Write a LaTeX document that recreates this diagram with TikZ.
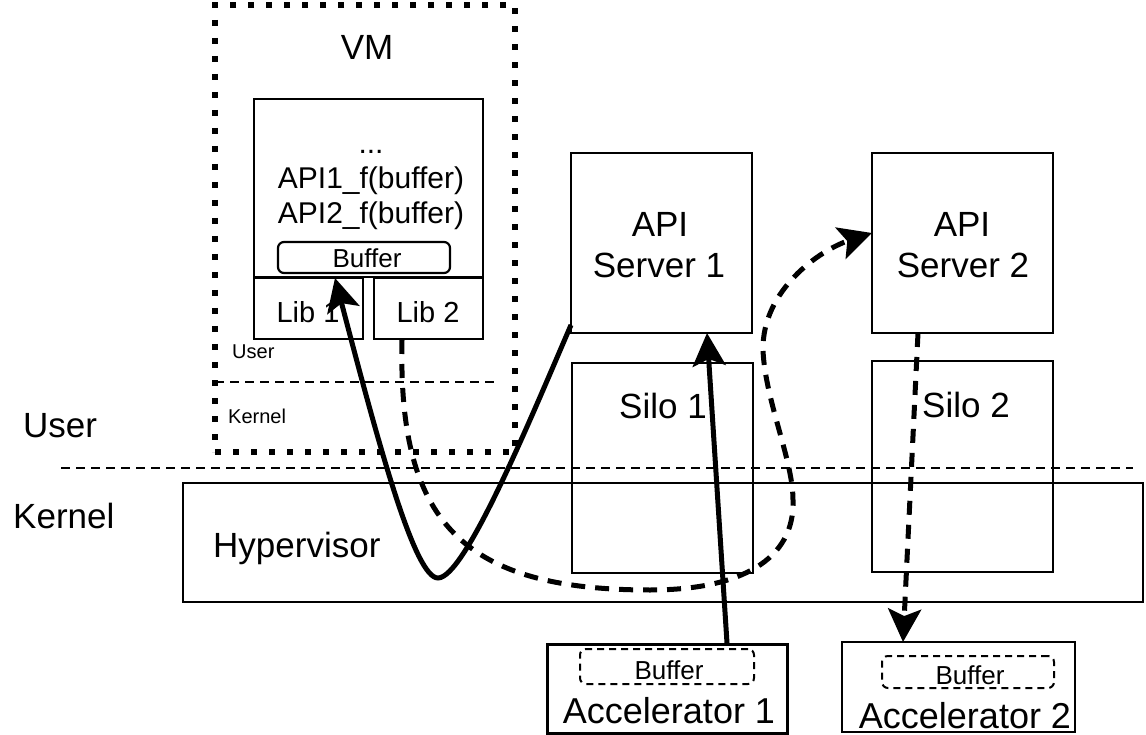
\documentclass[tikz,border=0pt]{standalone}
\usepackage{fontspec}
\setmainfont{Liberation Sans}
\usetikzlibrary{arrows.meta,calc}
\begin{document}
\begin{tikzpicture}[x=1pt,y=-1pt,
  box/.style={draw, line width=2.2pt, inner sep=0pt},
  vmbox/.style={draw, line width=6pt, dash pattern=on 6pt off 12pt, inner sep=0pt},
  bufbox/.style={draw, line width=2.2pt, rounded corners=6pt, inner sep=0pt},
  dbufbox/.style={draw, line width=2pt, dash pattern=on 7pt off 5pt, rounded corners=6pt, inner sep=0pt},
  sep/.style={line width=2pt, dash pattern=on 9pt off 6pt},
  lbl/.style={anchor=base, inner sep=0pt},
  big/.style={font=\fontsize{35}{40}\selectfont},
  acc/.style={font=\fontsize{36}{40}\selectfont},
  mid/.style={font=\fontsize{30}{35}\selectfont},
  libf/.style={font=\fontsize{29}{34}\selectfont},
  buff/.style={font=\fontsize{26}{30}\selectfont},
  small/.style={font=\fontsize{20}{24}\selectfont},
  solidarrow/.style={line width=5pt, -{Stealth[length=33pt, width=33pt, inset=7pt]}},
  dasharrow/.style={line width=5pt, dash pattern=on 14pt off 10pt, -{Stealth[length=33pt, width=33pt, inset=7pt]}}
]
\useasboundingbox (0,0) rectangle (1146,735);

% VM
\node[vmbox, minimum width=300pt, minimum height=447pt] (vm) at (365,228.5) {};
\node[lbl, big] (vmt) at (367,60) {VM};
\node[box, minimum width=229pt, minimum height=178pt] (app) at (368.5,188) {};
\node[lbl, mid] (dots) at (371,154) {...};
\node[lbl, mid] (f1) at (371,189) {API1\_f(buffer)};
\node[lbl, mid] (f2) at (371,224) {API2\_f(buffer)};
\node[bufbox, minimum width=172pt, minimum height=31pt] (buf) at (364,257.5) {};
\node[lbl, buff] (buft) at (367,268) {Buffer};
\node[box, minimum width=109pt, minimum height=61pt] (lib1) at (308.5,308.5) {};
\node[lbl, libf] (lib1t) at (308,323) {Lib 1};
\node[box, minimum width=109pt, minimum height=61pt] (lib2) at (428.5,308.5) {};
\node[lbl, libf] (lib2t) at (428,323) {Lib 2};
\node[lbl, small, anchor=base west] (vmuser) at (232,359) {User};
\node[lbl, small, anchor=base west] (vmkernel) at (228,423) {Kernel};
\coordinate (vmsl) at (215,382);
\coordinate (vmsr) at (497,382);
\draw[sep] (vmsl) -- (vmsr);

% user / kernel separation
\coordinate (ukl) at (61,468);
\coordinate (ukr) at (1133,468);
\draw[sep] (ukl) -- (ukr);
\node[lbl, big, anchor=base west] (user) at (23,437) {User};
\node[lbl, big, anchor=base west] (kernel) at (13,528) {Kernel};

% hypervisor
\node[box, minimum width=960pt, minimum height=119pt] (hyp) at (663,542.5) {};
\node[lbl, big, anchor=base west] (hypt) at (213,557) {Hypervisor};

% servers and silos
\node[box, minimum width=181pt, minimum height=180pt] (api1) at (661.5,243) {};
\node[lbl, big] (api1a) at (660,237) {API};
\node[lbl, big] (api1b) at (659,278) {Server 1};
\node[box, minimum width=181pt, minimum height=210pt] (silo1) at (662.5,468) {};
\node[lbl, big] (silo1t) at (663,418) {Silo 1};
\node[box, minimum width=181pt, minimum height=180pt] (api2) at (962.5,243) {};
\node[lbl, big] (api2a) at (962,237) {API};
\node[lbl, big] (api2b) at (963,278) {Server 2};
\node[box, minimum width=181pt, minimum height=211pt] (silo2) at (962.5,466.5) {};
\node[lbl, big] (silo2t) at (966,417) {Silo 2};

% accelerators
\node[box, line width=3pt, minimum width=240pt, minimum height=89pt] (acc1) at (667,688.5) {};
\node[dbufbox, minimum width=174pt, minimum height=35pt] (ab1) at (667,666.5) {};
\node[lbl, buff] (ab1t) at (669,679) {Buffer};
\node[lbl, acc] (acc1t) at (669,723) {Accelerator 1};
\node[box, line width=2.5pt, minimum width=233pt, minimum height=90pt] (acc2) at (958.5,687) {};
\node[dbufbox, minimum width=172pt, minimum height=32pt] (ab2) at (968,672) {};
\node[lbl, buff] (ab2t) at (970,684) {Buffer};
\node[lbl, acc] (acc2t) at (965,728) {Accelerator 2};

% connectors
\coordinate (c1s) at (571,325);
\coordinate (c1b) at (438,578);
\coordinate (c1e) at (335,278);
\draw[solidarrow] (c1s) .. controls (530,420) and (465,578) .. (c1b)
  .. controls (415,578) and (380,450) .. (c1e);

\coordinate (a1s) at (727,643);
\coordinate (a1e) at (707,333);
\draw[solidarrow] (a1s) -- (a1e);

\coordinate (d1s) at (402,340);
\coordinate (d1b) at (650,590);
\coordinate (d1r) at (793,500);
\coordinate (d1m) at (763,350);
\coordinate (d1e) at (872,233);
\draw[dasharrow] (d1s) .. controls (398,520) and (460,590) .. (d1b)
  .. controls (740,590) and (795,560) .. (d1r)
  .. controls (793,460) and (765,400) .. (d1m)
  .. controls (762,290) and (820,250) .. (d1e);

\coordinate (a2s) at (918,333);
\coordinate (a2e) at (903,642);
\draw[dasharrow] (a2s) -- (a2e);
\end{tikzpicture}
\end{document}
